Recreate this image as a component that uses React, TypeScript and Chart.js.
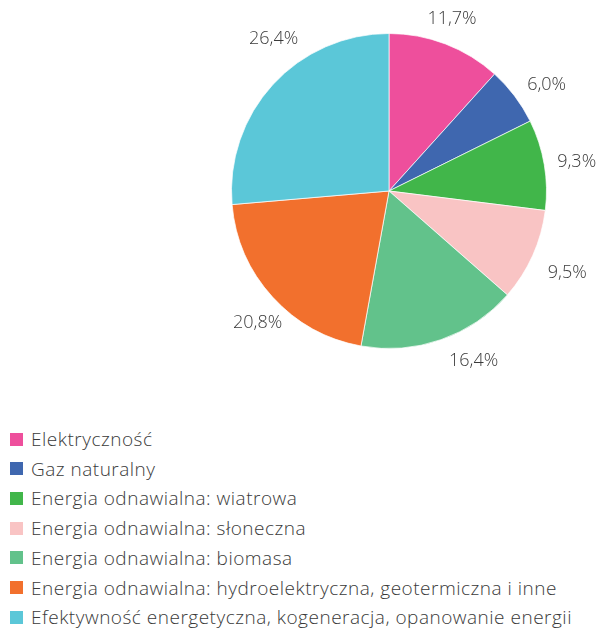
import React, { useEffect, useRef } from "react";
import { Chart, registerables } from "chart.js";

Chart.register(...registerables);

const categories = [
  "Elektryczność",
  "Gaz naturalny",
  "Energia odnawialna: wiatrowa",
  "Energia odnawialna: słoneczna",
  "Energia odnawialna: biomasa",
  "Energia odnawialna: hydroelektryczna, geotermiczna i inne",
  "Efektywność energetyczna, kogeneracja, opanowanie energii",
];
const shares = [11.7, 6.0, 9.3, 9.5, 16.4, 20.8, 26.4];
const colors = ["#EE4F9C", "#3F67AF", "#41B64A", "#F9C4C4", "#62C28B", "#F2702D", "#5BC7D8"];

// label placement tuning (degrees shift from slice middle, radial distance in px)
const LABEL_ANGLE_SHIFT = [-0.9, 3.2, 0.7, 0.4, -7.2, -2.7, 10.3];
const LABEL_RADIUS = [183, 190, 190, 196, 190, 186, 191];

const FONT = "'Open Sans', sans-serif";
const TEXT = "#3a3a3a";

const fmt = (v: number) => v.toFixed(1).replace(".", ",") + "%";

const labelPlugin = {
  id: "sliceLabels",
  afterDatasetsDraw(chart: any) {
    const ctx = chart.ctx;
    const meta = chart.getDatasetMeta(0);
    ctx.save();
    ctx.font = `300 18px ${FONT}`;
    ctx.fillStyle = TEXT;
    ctx.textAlign = "center";
    ctx.textBaseline = "middle";
    meta.data.forEach((arc: any, i: number) => {
      const { startAngle, endAngle, x, y } = arc.getProps(["startAngle", "endAngle", "x", "y"], true);
      const mid = (startAngle + endAngle) / 2 + (LABEL_ANGLE_SHIFT[i] * Math.PI) / 180;
      const r = LABEL_RADIUS[i];
      ctx.fillText(fmt(shares[i]), x + r * Math.cos(mid), y + r * Math.sin(mid));
    });
    ctx.restore();
  },
};

export default function App() {
  const ref = useRef<HTMLCanvasElement | null>(null);
  useEffect(() => {
    if (!ref.current) return;
    const chart = new Chart(ref.current, {
      type: "pie",
      data: {
        labels: categories,
        datasets: [
          {
            data: shares,
            backgroundColor: colors,
            borderColor: "rgba(255,255,255,0.7)",
            borderWidth: 1,
          },
        ],
      },
      options: {
        animation: false,
        responsive: false,
        layout: { padding: { left: 231, right: 52, top: 33, bottom: 51 } },
        plugins: { legend: { display: false }, tooltip: { enabled: false } },
      },
      plugins: [labelPlugin],
    });
    return () => chart.destroy();
  }, []);

  return (
    <div style={{ position: "absolute", left: 0, top: 0, width: 599, height: 631, background: "#fff" }}>
      <canvas ref={ref} width={599} height={400} style={{ position: "absolute", left: 0, top: 0 }} />
      {categories.map((c, i) => (
        <div
          key={c}
          style={{
            position: "absolute",
            left: 10,
            top: 439 + i * 29.7 - 13,
            height: 26,
            display: "flex",
            alignItems: "center",
            fontFamily: FONT,
            fontWeight: 300,
            fontSize: 19,
            letterSpacing: "0.5px",
            color: TEXT,
            whiteSpace: "nowrap",
          }}
        >
          <span style={{ display: "inline-block", width: 13, height: 13, background: colors[i], marginRight: 8 }} />
          <span>{c}</span>
        </div>
      ))}
    </div>
  );
}
